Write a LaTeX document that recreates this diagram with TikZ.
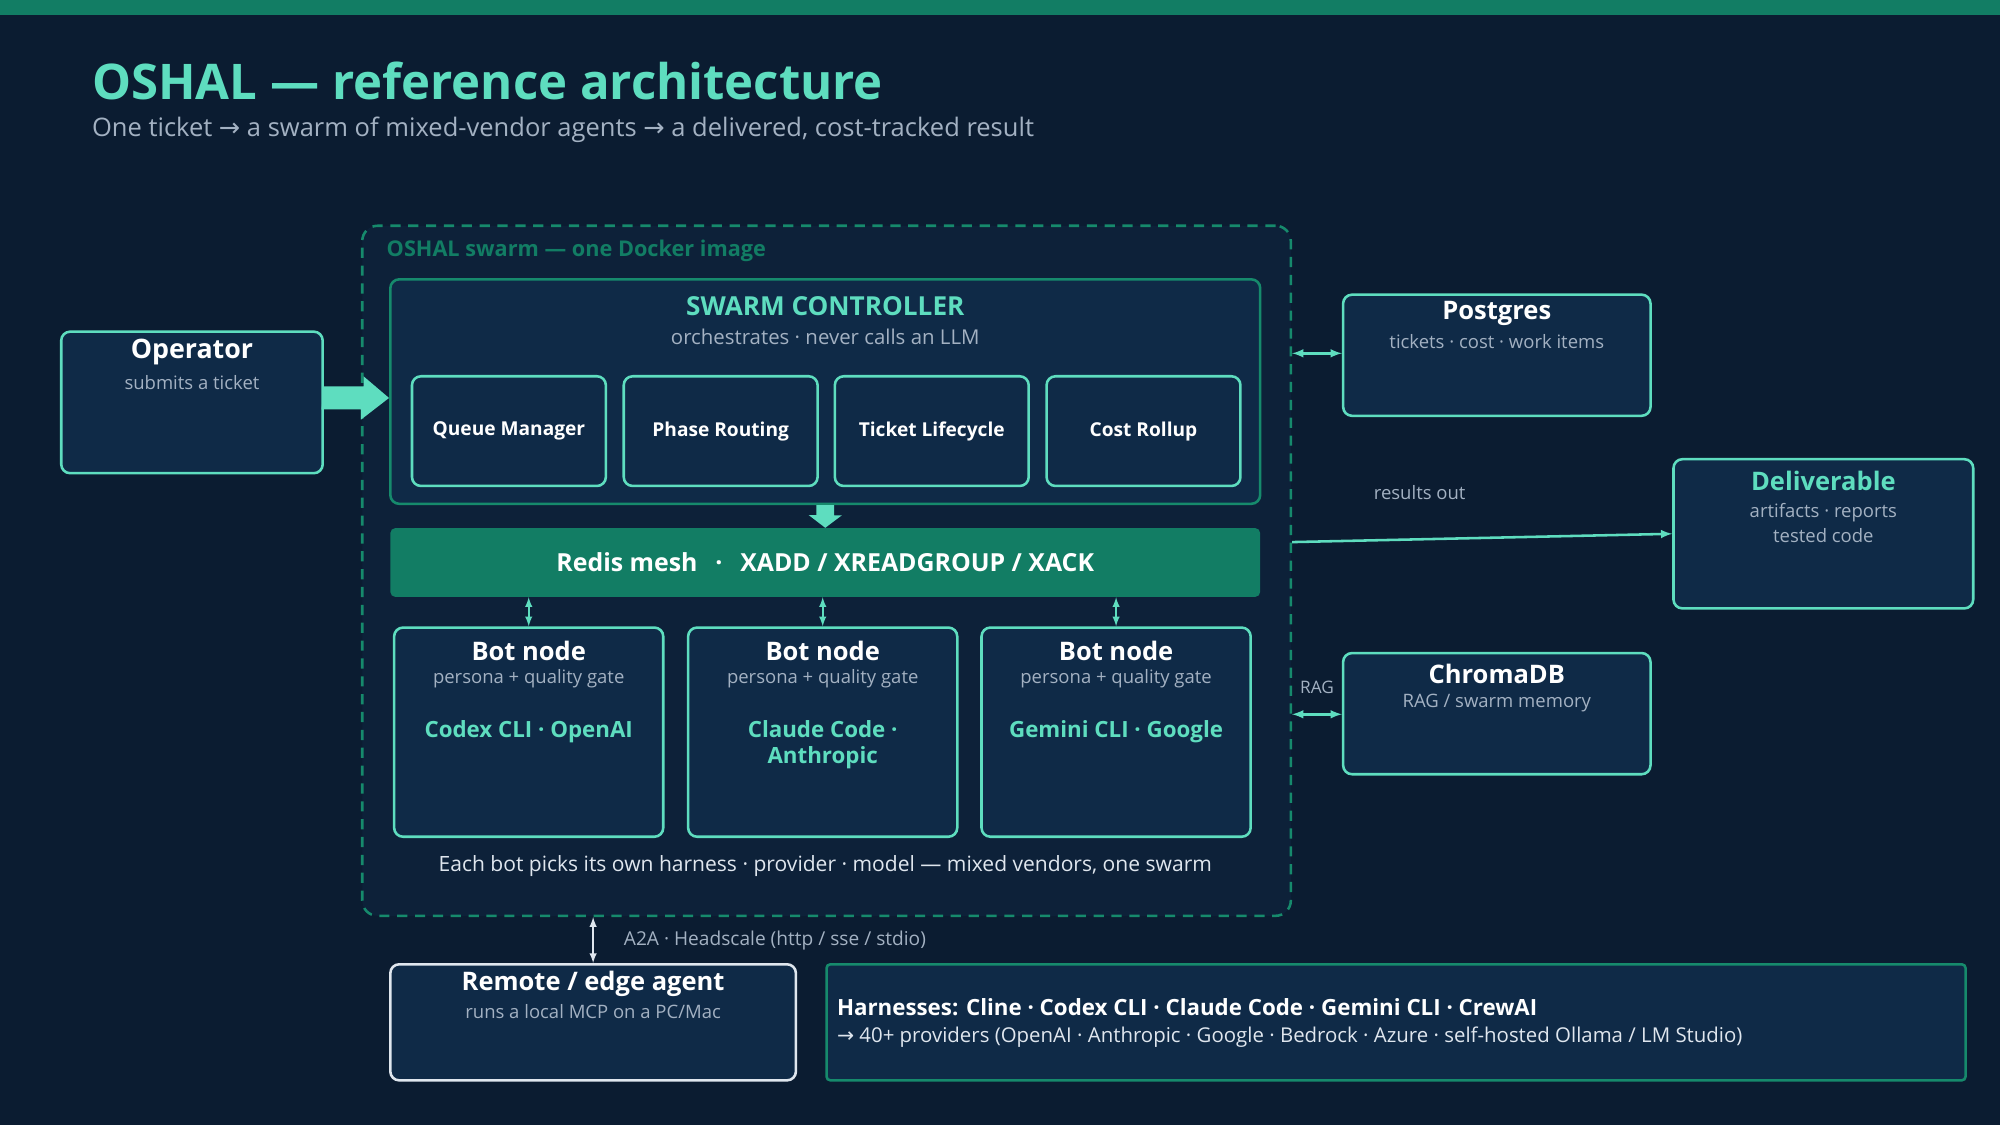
\documentclass[tikz,border=0pt]{standalone}
\usepackage{fontspec}
\setmainfont{Open Sans}
\newfontfamily\symfont{DejaVu Sans}
\usetikzlibrary{arrows,calc,positioning}

\definecolor{bgdark}{HTML}{0B1C31}
\definecolor{panel}{HTML}{0F2A47}
\definecolor{swarmbg}{HTML}{0D2139}
\definecolor{mint}{HTML}{5EDDBF}
\definecolor{teal}{HTML}{127D64}
\definecolor{tealline}{HTML}{168A6C}
\definecolor{soft}{HTML}{A3B1C2}
\definecolor{light}{HTML}{DFE6EE}

\tikzset{
    box/.style={draw=mint,line width=2pt,rounded corners=7pt,fill=panel,inner sep=0pt},
    inner/.style={box,minimum width=152pt,minimum height=86pt,font=\fontsize{15}{18}\selectfont\bfseries,text=white},
    bot/.style={box,minimum width=211pt,minimum height=164pt},
    side/.style={box,minimum width=241pt,minimum height=95pt},
    ttl/.style={font=\fontsize{20}{24}\selectfont\bfseries,text=white},
    sub/.style={font=\fontsize{14.5}{20}\selectfont,text=soft,align=center},
    vendor/.style={font=\fontsize{17.5}{21}\selectfont\bfseries,text=mint,align=center},
    link/.style={draw=mint,line width=2pt},
    fat/.style={fill=mint,draw=none},
}

\begin{document}
\begin{tikzpicture}[x=1pt,y=-1pt]
    \fill[bgdark] (0,0) rectangle (1568,882);
    \fill[teal] (0,0) rectangle (1568,12);
    \useasboundingbox (0,0) rectangle (1568,882);

    % Heading
    \node[anchor=base west,inner sep=0,font=\fontsize{38.5}{44}\selectfont\bfseries,text=mint] (title) at (72,78) {OSHAL — reference architecture};
    \node[anchor=west,inner sep=0,font=\fontsize{20}{24}\selectfont,text=soft] (subtitle) at (72,102)
        {One ticket {\symfont→} a swarm of mixed-vendor agents {\symfont→} a delivered, cost-tracked result};

    % Swarm frame
    \node[draw=tealline,dashed,dash pattern=on 8pt off 6pt,line width=2pt,rounded corners=12pt,fill=swarmbg,
        minimum width=728pt,minimum height=541pt,inner sep=0] (swarm) at (648,447.5) {};
    \node[anchor=west,inner sep=0,font=\fontsize{17}{20}\selectfont\bfseries,text=teal] at (303,197) {OSHAL swarm — one Docker image};

    % Controller
    \node[box,draw=tealline,minimum width=682pt,minimum height=176pt] (ctrl) at (647,307) {};
    \node[font=\fontsize{20.5}{24}\selectfont\bfseries,text=mint] at (647,240) {SWARM CONTROLLER};
    \node[sub,font=\fontsize{16}{20}\selectfont] at (647,264) {orchestrates · never calls an LLM};
    \node[inner] (queue) at (399,338) {Queue Manager};
    \node[inner] (phase) at (565,338) {Phase Routing};
    \node[inner] (life)  at (730.5,338) {Ticket Lifecycle};
    \node[inner] (cost)  at (896.5,338) {Cost Rollup};

    % Redis
    \node[fill=teal,rounded corners=4pt,minimum width=682pt,minimum height=54pt,inner sep=0,
        font=\fontsize{19.5}{24}\selectfont\bfseries,text=white] (redis) at (647,441)
        {Redis mesh\hspace{14pt}·\hspace{14pt}XADD / XREADGROUP / XACK};
    \fill[fat] ($(ctrl.south)+(-7,0)$) -- ++(14,0) -- ++(0,8) -- ++(6,0) -- (redis.north)
        -- ++(-13,-10) -- ++(6,0) -- cycle;

    % Bots
    \node[bot] (bot1) at (414.5,574) {};
    \node[bot] (bot2) at (645,574) {};
    \node[bot] (bot3) at (875,574) {};
    \foreach \b/\v in {bot1/{Codex CLI · OpenAI},bot2/{Claude Code ·\\Anthropic},bot3/{Gemini CLI · Google}} {
        \node[ttl] at ([yshift=-19]\b.north) {Bot node};
        \node[sub] at ([yshift=-41]\b.north) {persona + quality gate};
        \node[vendor,anchor=north] at ([yshift=-70]\b.north) {\v};
        \draw[link,line width=1.6pt,latex-latex] (redis.south -| \b.north) -- (\b.north);
    }
    \node[font=\fontsize{16.5}{20}\selectfont,text=light] at (647,679)
        {Each bot picks its own harness · provider · model — mixed vendors, one swarm};

    % Operator
    \node[box,minimum width=205pt,minimum height=111pt] (op) at (150.5,315.5) {};
    \node[ttl,font=\fontsize{21}{24}\selectfont\bfseries] at ([yshift=-17]op.north) {Operator};
    \node[sub] at ([yshift=-41]op.north) {submits a ticket};
    \coordinate (opout) at (op.east |- 0,312);
    \fill[fat] ($(opout)+(0,-9)$) -- ++(31,0) -- ++(0,-8) -- (ctrl.west |- opout)
        -- ++(-22,17) -- ++(0,-8) -- ++(-31,0) -- cycle;

    % Stores and output
    \node[side] (pg) at (1173.5,278.5) {};
    \node[ttl] at ([yshift=-16]pg.north) {Postgres};
    \node[sub] at ([yshift=-38]pg.north) {tickets · cost · work items};
    \draw[link,latex-latex] (swarm.east |- 0,277) -- (pg.west |- 0,277);

    \node[side] (chroma) at (1173.5,559.5) {};
    \node[ttl] at ([yshift=-17]chroma.north) {ChromaDB};
    \node[sub] at ([yshift=-40]chroma.north) {RAG / swarm memory};
    \coordinate (ragout) at (swarm.east |- 0,560);
    \draw[link,latex-latex] (ragout) -- (chroma.west |- ragout) node[midway,above=12pt,sub,font=\fontsize{13.5}{16}\selectfont] {RAG};

    \node[box,minimum width=235pt,minimum height=117pt] (deliv) at (1429.5,418.5) {};
    \node[ttl,text=mint] at ([yshift=-18]deliv.north) {Deliverable};
    \node[sub,anchor=north] at ([yshift=-32]deliv.north) {artifacts · reports\\tested code};
    \coordinate (resout) at (swarm.east |- 0,425);
    \draw[link,-latex] (resout) -- (deliv.west) ;
    \node[sub] at (1113,386) {results out};

    % Remote side
    \node[box,draw=light,minimum width=318pt,minimum height=91pt] (edge) at (465,801.5) {};
    \node[ttl] at ([yshift=-16]edge.north) {Remote / edge agent};
    \node[sub] at ([yshift=-38]edge.north) {runs a local MCP on a PC/Mac};
    \draw[draw=light,line width=1.6pt,latex-latex] (swarm.south -| edge.north) -- (edge.north)
        node[midway,right=20pt,sub,font=\fontsize{15}{18}\selectfont] {A2A · Headscale (http / sse / stdio)};

    \node[box,draw=tealline,rounded corners=3pt,minimum width=893pt,minimum height=91pt] (harn) at (1094.5,801.5) {};
    \node[anchor=west,inner sep=0,font=\fontsize{17.5}{21}\selectfont\bfseries,text=white] at (656,790)
        {Harnesses: Cline · Codex CLI · Claude Code · Gemini CLI · CrewAI};
    \node[anchor=west,inner sep=0,font=\fontsize{16}{20}\selectfont,text=light] at (656,813)
        {{\symfont→} 40+ providers (OpenAI · Anthropic · Google · Bedrock · Azure · self-hosted Ollama / LM Studio)};
\end{tikzpicture}
\end{document}
